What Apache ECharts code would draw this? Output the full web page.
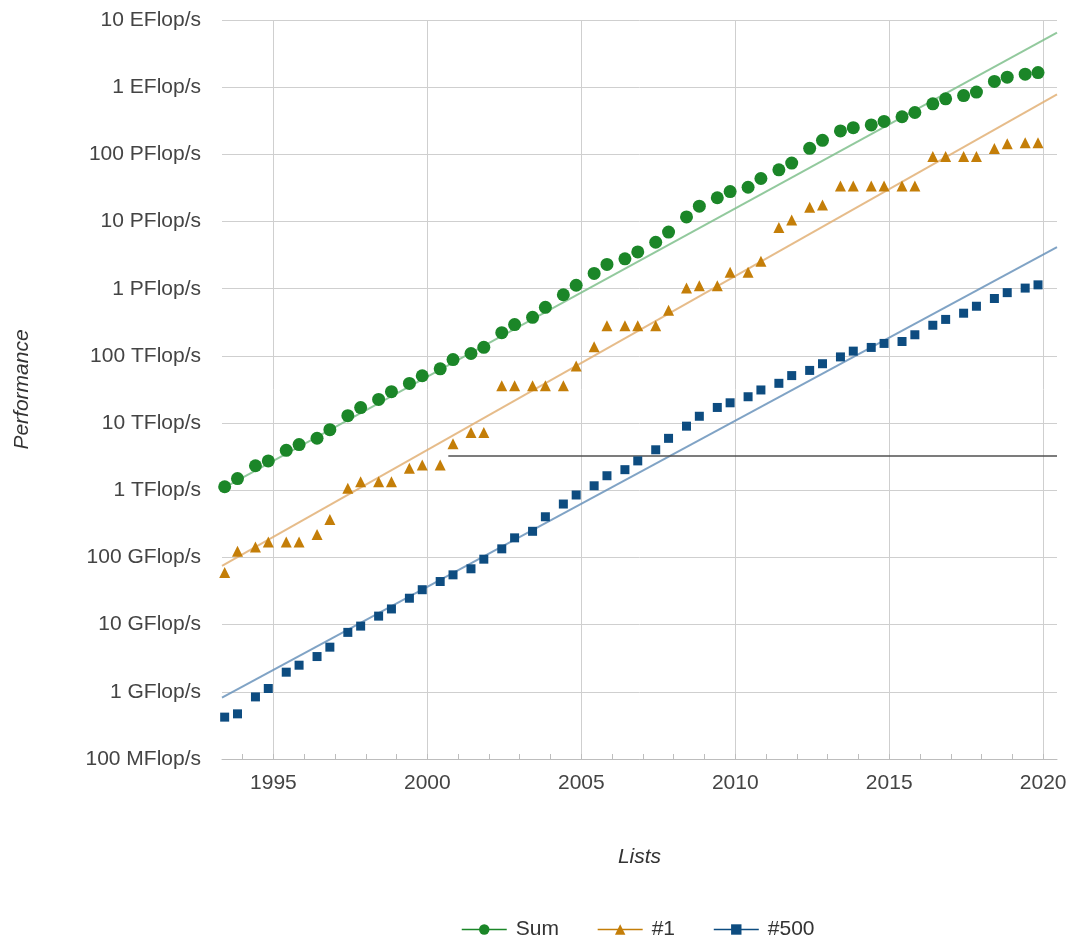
<!DOCTYPE html>
<html>
<head>
<meta charset="utf-8">
<script src="https://cdn.jsdelivr.net/npm/echarts@6.0.0/dist/echarts.min.js"></script>
<style>
  html, body { margin: 0; padding: 0; background: #ffffff; }
  #chart { width: 1074px; height: 939px; }
</style>
</head>
<body>
<div id="chart"></div>
<script>
// ---- Data ----
const lists = [
  '1993-06','1993-11','1994-06','1994-11','1995-06','1995-11','1996-06','1996-11',
  '1997-06','1997-11','1998-06','1998-11','1999-06','1999-11','2000-06','2000-11',
  '2001-06','2001-11','2002-06','2002-11','2003-06','2003-11','2004-06','2004-11',
  '2005-06','2005-11','2006-06','2006-11','2007-06','2007-11','2008-06','2008-11',
  '2009-06','2009-11','2010-06','2010-11','2011-06','2011-11','2012-06','2012-11',
  '2013-06','2013-11','2014-06','2014-11','2015-06','2015-11','2016-06','2016-11',
  '2017-06','2017-11','2018-06','2018-11','2019-06','2019-11'
];

// Performance in Flop/s
const sumPerf = [
  1.128e12, 1.493e12, 2.317e12, 2.732e12, 3.936e12, 4.784e12, 5.947e12, 7.985e12,
  1.29e13, 1.70e13, 2.25e13, 2.94e13, 3.89e13, 5.07e13, 6.43e13, 8.81e13,
  1.086e14, 1.344e14, 2.22e14, 2.93e14, 3.75e14, 5.28e14, 8.13e14, 1.127e15,
  1.69e15, 2.30e15, 2.79e15, 3.53e15, 4.92e15, 6.97e15, 1.17e16, 1.695e16,
  2.26e16, 2.795e16, 3.24e16, 4.37e16, 5.89e16, 7.42e16, 1.23e17, 1.62e17,
  2.23e17, 2.50e17, 2.74e17, 3.09e17, 3.63e17, 4.20e17, 5.66e17, 6.72e17,
  7.49e17, 8.45e17, 1.22e18, 1.41e18, 1.56e18, 1.65e18
];

const top1Perf = [
  5.97e10, 1.24e11, 1.434e11, 1.70e11, 1.70e11, 1.70e11, 2.204e11, 3.682e11,
  1.068e12, 1.338e12, 1.338e12, 1.338e12, 2.121e12, 2.379e12, 2.379e12, 4.938e12,
  7.226e12, 7.226e12, 3.586e13, 3.586e13, 3.586e13, 3.586e13, 3.586e13, 7.072e13,
  1.368e14, 2.806e14, 2.806e14, 2.806e14, 2.806e14, 4.782e14, 1.026e15, 1.105e15,
  1.105e15, 1.759e15, 1.759e15, 2.566e15, 8.162e15, 1.051e16, 1.632e16, 1.759e16,
  3.386e16, 3.386e16, 3.386e16, 3.386e16, 3.386e16, 3.386e16, 9.301e16, 9.301e16,
  9.301e16, 9.301e16, 1.223e17, 1.435e17, 1.486e17, 1.486e17
];

const top500Perf = [
  4.2e8, 4.7e8, 8.4e8, 1.12e9, 1.96e9, 2.49e9, 3.35e9, 4.62e9,
  7.67e9, 9.51e9, 1.339e10, 1.712e10, 2.473e10, 3.31e10, 4.382e10, 5.51e10,
  6.778e10, 9.43e10, 1.343e11, 1.958e11, 2.451e11, 4.034e11, 6.24e11, 8.506e11,
  1.166e12, 1.646e12, 2.026e12, 2.737e12, 4.005e12, 5.929e12, 9.0e12, 1.264e13,
  1.709e13, 2.005e13, 2.467e13, 3.112e13, 3.909e13, 5.094e13, 6.082e13, 7.65e13,
  9.662e13, 1.178e14, 1.337e14, 1.534e14, 1.64e14, 2.064e14, 2.86e14, 3.493e14,
  4.322e14, 5.487e14, 7.156e14, 8.748e14, 1.022e15, 1.142e15
];

// Trend lines (start/end values read at left and right edge of the plot)
const trendX = [1993.33, 2020.45];
const trendSum = [1.05e12, 6.5e18];
const trendTop1 = [7.5e10, 7.8e17];
const trendTop500 = [8.2e8, 4.15e15];

// Dark horizontal line seen in the reference
const guideX = [2000.68, 2020.45];
const guideValue = 3.28e12;

// Tick labels
const yTickLabels = [
  '100 MFlop/s', '1 GFlop/s', '10 GFlop/s', '100 GFlop/s', '1 TFlop/s',
  '10 TFlop/s', '100 TFlop/s', '1 PFlop/s', '10 PFlop/s', '100 PFlop/s',
  '1 EFlop/s', '10 EFlop/s'
];
const xLabelYears = [1995, 2000, 2005, 2010, 2015, 2020];
const xTickYears = [1994,1995,1996,1997,1998,1999,2000,2001,2002,2003,2004,2005,2006,
  2007,2008,2009,2010,2011,2012,2013,2014,2015,2016,2017,2018,2019,2020];

// ---- Build ----
function toYear(s) {
  const p = s.split('-');
  return +p[0] + (+p[1] - 1) / 12;
}
const xs = lists.map(toYear);
const pair = (vals) => vals.map((v, i) => [xs[i], v]);
const trend = (vals) => vals.map((v, i) => [trendX[i], v]);

const FONT = '"Liberation Sans", Arial, sans-serif';
const C_SUM = '#1b8628', C_TOP1 = '#c47e08', C_TOP500 = '#0d4c80';

const chart = echarts.init(document.getElementById('chart'), null, { renderer: 'canvas' });
chart.setOption({
  animation: false,
  backgroundColor: '#ffffff',
  textStyle: { fontFamily: FONT },
  grid: { left: 222, right: 17, top: 20, bottom: 180, containLabel: false, outerBoundsMode: 'none' },
  xAxis: [
    {
      type: 'value', min: 1993.33, max: 2020.45,
      name: 'Lists', nameLocation: 'middle', nameGap: 88,
      nameTextStyle: { fontFamily: FONT, fontSize: 21, fontStyle: 'italic', color: '#333' },
      axisLine: { show: true, lineStyle: { color: '#bdbdbd', width: 1 } },
      axisTick: { show: false, customValues: xLabelYears },
      axisLabel: { customValues: xLabelYears, margin: 14, fontSize: 21, color: '#444', fontFamily: FONT,
                   formatter: (v) => String(Math.round(v)) },
      splitLine: { show: true, lineStyle: { color: '#cfcfcf', width: 1 } }
    },
    {
      type: 'value', min: 1993.33, max: 2020.45, position: 'bottom',
      axisLine: { show: false },
      axisTick: { show: true, inside: true, length: 5, customValues: xTickYears,
                  lineStyle: { color: '#bdbdbd', width: 1 } },
      axisLabel: { show: false },
      splitLine: { show: false }
    }
  ],
  yAxis: {
    type: 'log', logBase: 10, min: 1e8, max: 1e19, interval: 1, splitNumber: 11,
    name: 'Performance', nameLocation: 'middle', nameGap: 189, nameRotate: 90,
    nameTextStyle: { fontFamily: FONT, fontSize: 21, fontStyle: 'italic', color: '#333' },
    axisLine: { show: false },
    axisTick: { show: false },
    axisLabel: {
      margin: 21, fontSize: 21, color: '#444', fontFamily: FONT,
      formatter: (v) => yTickLabels[Math.round(Math.log10(v)) - 8] || ''
    },
    splitLine: { show: true, lineStyle: { color: '#cfcfcf', width: 1 } }
  },
  legend: {
    data: ['Sum', '#1', '#500'],
    left: 456, top: 914,
    itemWidth: 45, itemHeight: 13, itemGap: 38,
    textStyle: { fontFamily: FONT, fontSize: 21, color: '#333', padding: [0, 0, 0, 4] },
    lineStyle: { width: 1.5, opacity: 1 }
  },
  series: [
    { name: 'Sum trend', type: 'line', xAxisIndex: 0, data: trend(trendSum), showSymbol: false,
      lineStyle: { color: '#7fbf8c', width: 2, opacity: 0.85 }, itemStyle: { color: '#7fbf8c' }, z: 2, silent: true },
    { name: '#1 trend', type: 'line', xAxisIndex: 0, data: trend(trendTop1), showSymbol: false,
      lineStyle: { color: '#e2b075', width: 2, opacity: 0.85 }, itemStyle: { color: '#e2b075' }, z: 2, silent: true },
    { name: '#500 trend', type: 'line', xAxisIndex: 0, data: trend(trendTop500), showSymbol: false,
      lineStyle: { color: '#6a93bb', width: 2, opacity: 0.85 }, itemStyle: { color: '#6a93bb' }, z: 2, silent: true,
      markLine: {
        silent: true, symbol: ['none', 'none'], label: { show: false },
        lineStyle: { color: '#505050', width: 1.5, type: 'solid', opacity: 1 },
        data: [[{ coord: [guideX[0], guideValue] }, { coord: [guideX[1], guideValue] }]]
      }
    },
    { name: 'Sum', type: 'line', xAxisIndex: 0, data: pair(sumPerf), symbol: 'circle', symbolSize: 13,
      showSymbol: true, itemStyle: { color: C_SUM }, lineStyle: { color: C_SUM, opacity: 0 }, z: 5 },
    { name: '#1', type: 'line', xAxisIndex: 0, data: pair(top1Perf), symbol: 'triangle', symbolSize: 11,
      showSymbol: true, itemStyle: { color: C_TOP1 }, lineStyle: { color: C_TOP1, opacity: 0 }, z: 5 },
    { name: '#500', type: 'line', xAxisIndex: 0, data: pair(top500Perf), symbol: 'rect', symbolSize: 9,
      showSymbol: true, itemStyle: { color: C_TOP500 }, lineStyle: { color: C_TOP500, opacity: 0 }, z: 5 }
  ]
});
</script>
</body>
</html>
